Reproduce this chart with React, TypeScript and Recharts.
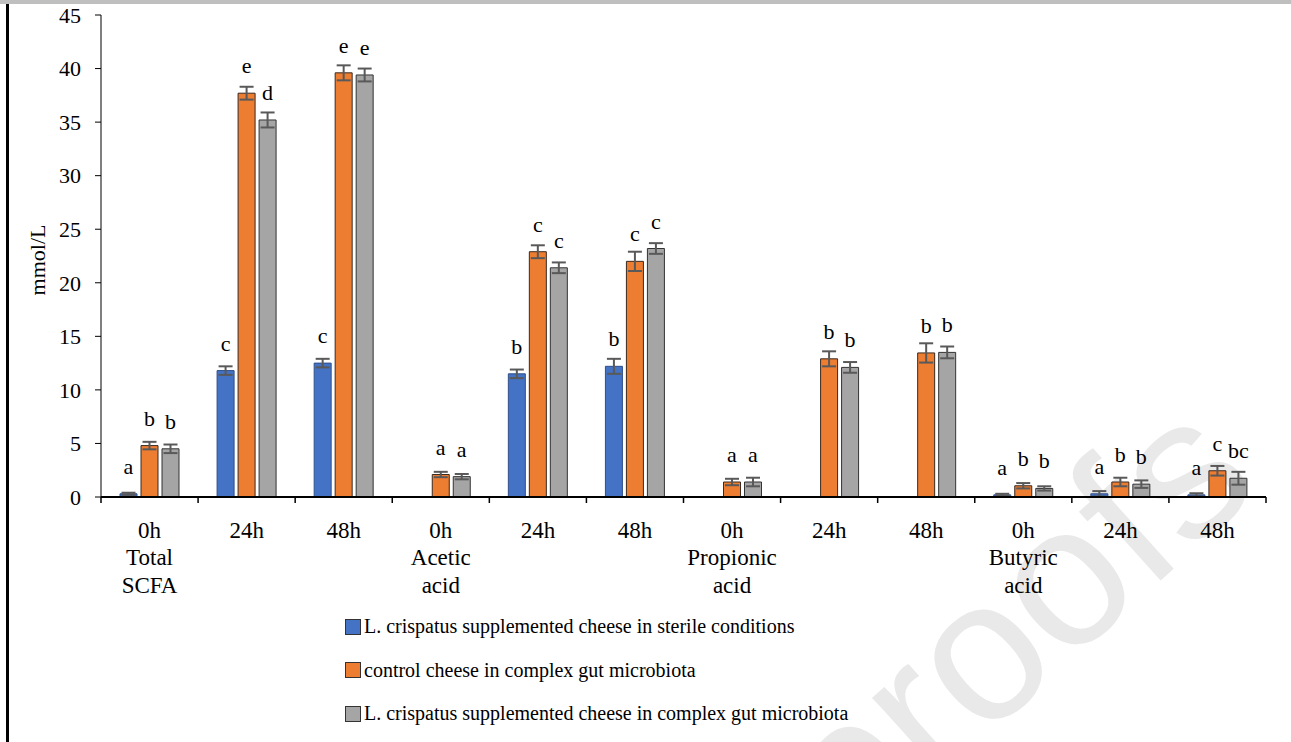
import React from 'react';
import { Bar, BarChart, ErrorBar, LabelList, XAxis, YAxis } from 'recharts';

const times = ['0h', '24h', '48h', '0h', '24h', '48h', '0h', '24h', '48h', '0h', '24h', '48h'];
const groups = ['Total\nSCFA', '', '', 'Acetic\nacid', '', '', 'Propionic\nacid', '', '', 'Butyric\nacid', '', ''];

const sterile = [0.3, 11.8, 12.5, 0, 11.5, 12.2, 0, 0, 0, 0.2, 0.3, 0.2];
const sterileErr = [0.1, 0.4, 0.4, 0, 0.4, 0.7, 0, 0, 0, 0.1, 0.25, 0.15];
const sterileLetters = ['a', 'c', 'c', '', 'b', 'b', '', '', '', 'a', 'a', 'a'];

const control = [4.8, 37.7, 39.6, 2.1, 22.9, 22.0, 1.4, 12.9, 13.45, 1.05, 1.4, 2.45];
const controlErr = [0.35, 0.6, 0.7, 0.25, 0.6, 0.9, 0.3, 0.7, 0.9, 0.25, 0.4, 0.45];
const controlLetters = ['b', 'e', 'e', 'a', 'c', 'c', 'a', 'b', 'b', 'b', 'b', 'c'];

const crispatus = [4.5, 35.2, 39.4, 1.9, 21.4, 23.2, 1.4, 12.1, 13.5, 0.8, 1.2, 1.75];
const crispatusErr = [0.4, 0.7, 0.6, 0.25, 0.5, 0.5, 0.4, 0.5, 0.55, 0.2, 0.35, 0.6];
const crispatusLetters = ['b', 'd', 'e', 'a', 'c', 'c', 'a', 'b', 'b', 'b', 'b', 'bc'];

const yTicks = [0, 5, 10, 15, 20, 25, 30, 35, 40, 45];

const series = [
  { key: 'sterile', name: 'L. crispatus supplemented cheese in sterile conditions', color: '#4472C4', edge: '#2f4f8a' },
  { key: 'control', name: 'control cheese in complex gut microbiota', color: '#ED7D31', edge: '#3a2a20' },
  { key: 'crispatus', name: 'L. crispatus supplemented cheese in complex gut microbiota', color: '#A5A5A5', edge: '#333333' },
];

const data = times.map((t, i) => ({
  time: t,
  group: groups[i],
  sterile: sterile[i],
  sterileErr: sterileErr[i],
  sterileLetter: sterileLetters[i],
  control: control[i],
  controlErr: controlErr[i],
  controlLetter: controlLetters[i],
  crispatus: crispatus[i],
  crispatusErr: crispatusErr[i],
  crispatusLetter: crispatusLetters[i],
}));

const FONT = '"Liberation Serif", "Times New Roman", serif';
const W = 1291;
const H = 742;
const M = { top: 15, right: 25, left: 41, bottom: 145 };
const Y_W = 60;
const band = (W - M.left - Y_W - M.right) / times.length;

const Letter = (props: any) => {
  const { x, y, width, value } = props;
  if (!value) return null;
  return (
    <text x={x + width / 2} y={y - 20} textAnchor="middle" fontFamily={FONT} fontSize={22} fill="#000">
      {value}
    </text>
  );
};

const CatTick = (props: any) => {
  const { x, y, index, payload } = props;
  const axisY = y - 6;
  const lines = (groups[index] || '').split('\n').filter(Boolean);
  return (
    <g>
      <line x1={x - band / 2} x2={x - band / 2} y1={axisY} y2={axisY + 6} stroke="#000" strokeWidth={1.5} />
      {index === times.length - 1 && (
        <line x1={x + band / 2} x2={x + band / 2} y1={axisY} y2={axisY + 6} stroke="#000" strokeWidth={1.5} />
      )}
      <text x={x} y={axisY + 41} textAnchor="middle" fontFamily={FONT} fontSize={23} fill="#000">
        {payload.value}
      </text>
      {lines.map((l, k) => (
        <text key={k} x={x} y={axisY + 68 + k * 27.5} textAnchor="middle" fontFamily={FONT} fontSize={23} fill="#000">
          {l}
        </text>
      ))}
    </g>
  );
};

const YLabel = (props: any) => {
  const { viewBox } = props;
  const cy = viewBox.y + viewBox.height / 2 + 4;
  return (
    <text x={37} y={cy} transform={`rotate(-90 37 ${cy})`} textAnchor="middle" dominantBaseline="central" fontFamily={FONT} fontSize={22} fill="#000">
      mmol/L
    </text>
  );
};

export default function App() {
  return (
    <div style={{ position: 'absolute', left: 0, top: 0, width: W, height: H, background: '#fff', overflow: 'hidden' }}>
      <svg width={W} height={H} style={{ position: 'absolute', left: 0, top: 0 }}>
        <text x={850} y={860} transform="rotate(-42 850 860)" fontFamily='"Liberation Sans", Arial, sans-serif' fontSize={200} fill="#e9e9e9">
          proofs
        </text>
      </svg>
      <div style={{ position: 'absolute', left: 0, top: 0, width: W, height: 4, background: '#bfbfbf' }} />
      <div style={{ position: 'absolute', left: 6, top: 4, width: 2.5, height: H - 4, background: '#000' }} />
      <div style={{ position: 'absolute', left: 0, top: 0 }}>
        <BarChart width={W} height={H} data={data} margin={M} barSize={17} barGap={4}>
          <XAxis
            dataKey="time"
            axisLine={{ stroke: '#000', strokeWidth: 2 }}
            tickLine={false}
            tickSize={6}
            tickMargin={0}
            height={100}
            interval={0}
            tick={<CatTick />}
          />
          <YAxis
            domain={[0, 45]}
            ticks={yTicks}
            width={Y_W}
            axisLine={{ stroke: '#000', strokeWidth: 1 }}
            tickLine={{ stroke: '#000', strokeWidth: 1 }}
            tickSize={6}
            tickMargin={14}
            tick={{ fontFamily: FONT, fontSize: 22, fill: '#000' }}
            label={<YLabel />}
          />
          {series.map((s) => (
            <Bar key={s.key} dataKey={s.key} name={s.name} fill={s.color} stroke={s.edge} strokeWidth={1} isAnimationActive={false}>
              <ErrorBar dataKey={`${s.key}Err`} width={7} strokeWidth={2} stroke="#595959" direction="y" />
              <LabelList dataKey={`${s.key}Letter`} content={<Letter />} />
            </Bar>
          ))}
        </BarChart>
      </div>
      <div style={{ position: 'absolute', left: 345, top: 605, fontFamily: FONT, fontSize: 20, color: '#000' }}>
        {series.map((s) => (
          <div key={s.key} style={{ display: 'flex', alignItems: 'center', height: 43.5 }}>
            <span style={{ display: 'inline-block', width: 14, height: 14, background: s.color, border: '1px solid #333', marginRight: 3 }} />
            <span>{s.name}</span>
          </div>
        ))}
      </div>
    </div>
  );
}
